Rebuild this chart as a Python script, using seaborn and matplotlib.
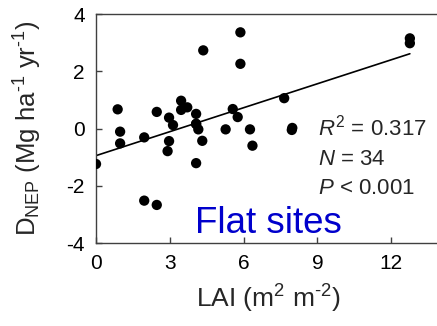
import matplotlib
matplotlib.use("Agg")
import matplotlib.pyplot as plt
import seaborn as sns
import pandas as pd

lai = [0.0, 0.88, 0.98, 0.98, 1.96, 1.96, 2.47, 2.47, 2.91, 2.97, 2.97, 3.13,
       3.46, 3.46, 3.71, 4.07, 4.07, 4.16, 4.07, 4.32, 4.36, 5.27, 5.56, 5.76,
       5.87, 5.87, 6.26, 6.36, 7.65, 7.96, 7.98, 12.76, 12.76, 4.07]
dnep = [-1.24, 0.67, -0.11, -0.52, -0.31, -2.52, -2.67, 0.58, -0.79, -0.44, 0.38, 0.12,
        0.97, 0.65, 0.74, 0.51, 0.16, -0.03, -1.21, -0.43, 2.73, -0.03, 0.68, 0.40,
        3.36, 2.26, -0.03, -0.60, 1.06, -0.05, 0.02, 3.15, 2.98, 0.16]

stats_lines = [r"$\it{R}^{2}$ = 0.317", r"$\it{N}$ = 34", r"$\it{P}$ < 0.001"]
site_label = "Flat sites"
x_ticks = [0, 3, 6, 9, 12]
y_ticks = [-4, -2, 0, 2, 4]

df = pd.DataFrame({"LAI": lai, "DNEP": dnep})

sns.set_style("white")
plt.rcParams["font.family"] = ["Liberation Sans", "DejaVu Sans"]
plt.rcParams["axes.unicode_minus"] = False
plt.rcParams["mathtext.fontset"] = "custom"
plt.rcParams["mathtext.rm"] = "Liberation Sans"
plt.rcParams["mathtext.it"] = "Liberation Sans:italic"
plt.rcParams["mathtext.bf"] = "Liberation Sans:bold"

fig = plt.figure(figsize=(4.37, 3.26), dpi=100)
ax = fig.add_axes([0.2197, 0.2546, 0.788, 0.7024])

sns.regplot(data=df, x="LAI", y="DNEP", ax=ax, ci=None, truncate=True,
            scatter_kws=dict(s=55, color="black", edgecolor="none", alpha=1, zorder=3),
            line_kws=dict(color="black", lw=1.2))

ax.set_xlim(0, 14)
ax.set_ylim(-4, 4)
ax.set_xticks(x_ticks)
ax.set_yticks(y_ticks)
ax.tick_params(direction="in", length=4, width=1, colors="#404040",
               labelsize=15, labelcolor="black", pad=8,
               bottom=True, left=True, top=False, right=False)
for s in ax.spines.values():
    s.set_color("#404040")
    s.set_linewidth(1)

ax.set_xlabel(r"LAI (m$^{\text{2}}$ m$^{\text{-2}}$)", fontsize=19, labelpad=7)
ax.set_ylabel(r"D$_{\text{NEP}}$ (Mg ha$^{\text{-1}}$ yr$^{\text{-1}}$)",
              fontsize=18.5, labelpad=16)

for i, t in enumerate(stats_lines):
    ax.text(9.02, -0.26 - 1.02 * i, t, fontsize=16, ha="left", va="baseline")

ax.text(4.02, -3.65, site_label, fontsize=26.5, color="#0000CC", ha="left", va="baseline")

fig.savefig("out.png", dpi=100)
